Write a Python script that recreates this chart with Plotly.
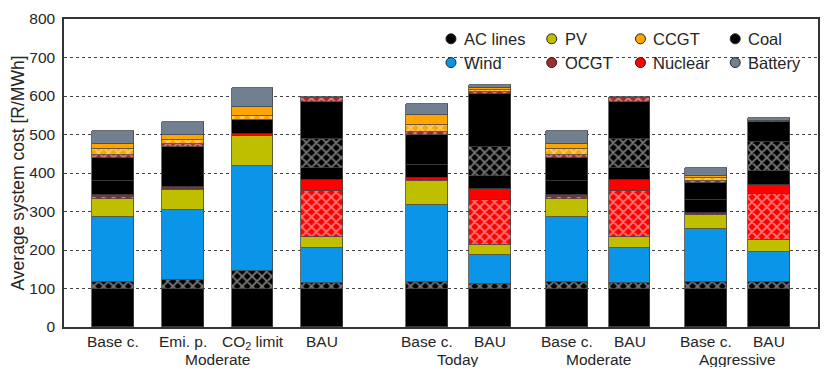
import plotly.graph_objects as go

# ---------------- data ----------------
tick_labels = ["Base c.", "Emi. p.", "CO<sub>2</sub> limit", "BAU",
               "Base c.", "BAU", "Base c.", "BAU", "Base c.", "BAU"]
group_labels = ["Moderate", "Today", "Moderate", "Aggressive"]

ac_lines   = [100, 100, 100, 100, 100, 100, 100, 100, 100, 100]
ac_lines_h = [18, 21, 45, 15, 16.5, 12, 18, 15, 18, 16.5]
wind       = [167.5, 184, 273, 91.5, 201.5, 75.7, 167.5, 91.5, 136, 77.5]
pv         = [48, 51.6, 78, 28.5, 60, 24.9, 48, 28.5, 37, 32]
nuclear_h  = [3, 2, 1, 117, 3, 118.4, 3, 117, 2, 120]
nuclear    = [5.5, 6, 5.5, 28.6, 5, 28, 5.5, 28.6, 3.5, 24]
coal_a     = [36, 0, 0, 33.4, 36, 32, 36, 33.4, 34.5, 34]
coal_h     = [0, 0, 0, 75.5, 0, 77, 0, 75.5, 0, 76]
coal_b     = [60, 103.5, 36, 94.5, 76, 137, 60, 94.5, 43, 53]
ocgt_h     = [8.5, 7, 0, 10, 8.7, 4.6, 8.5, 10, 6.2, 1]
ccgt_h     = [15.5, 10, 9, 1, 17.2, 6.9, 15.5, 1, 6.6, 0.5]
ccgt       = [14.6, 13, 23.7, 0.8, 25.7, 5.5, 14.6, 0.8, 4.4, 0.5]
battery    = [31.8, 34, 48.8, 1, 29.9, 7, 31.8, 1, 23, 8]

legend_names = ["AC lines", "PV", "CCGT", "Coal", "Wind", "OCGT", "Nuclear", "Battery"]

# ---------------- layout helpers ----------------
x_pos = [0, 1, 2, 3, 4.5, 5.4, 6.5, 7.4, 8.5, 9.4]
group_pos = [1.5, 4.95, 6.95, 8.95]

colors = {
    "AC lines": "#000000", "Wind": "#0a95e8", "PV": "#bfbf00",
    "OCGT": "#a52a2a", "CCGT": "#ffa500", "Nuclear": "#ff0000",
    "Coal": "#000000", "Battery": "#708090",
}

layers = [
    ("AC lines", ac_lines, False), ("AC lines", ac_lines_h, True),
    ("Wind", wind, False), ("PV", pv, False),
    ("Nuclear", nuclear_h, True), ("Nuclear", nuclear, False),
    ("Coal", coal_a, False), ("Coal", coal_h, True), ("Coal", coal_b, False),
    ("OCGT", ocgt_h, True), ("CCGT", ccgt_h, True), ("CCGT", ccgt, False),
    ("Battery", battery, False),
]

FONT = "Liberation Sans, Arial, sans-serif"
TXT = "#262626"
fig = go.Figure()

for name, vals, hatched in layers:
    c = colors[name]
    marker = dict(color=c, line=dict(color="#454545", width=0.8))
    if hatched:
        marker["pattern"] = dict(shape="x", fgcolor="#f4f4f4", bgcolor=c,
                                 size=7, solidity=0.45, fillmode="overlay")
    fig.add_trace(go.Bar(x=x_pos, y=vals, width=0.6, marker=marker,
                         name=name, showlegend=False, hoverinfo="y+name"))

# x labels (scenario + group) as annotations
for lab, xp in zip(tick_labels, x_pos):
    fig.add_annotation(x=xp, y=0, xref="x", yref="paper", text=lab,
                       showarrow=False, yanchor="top", yshift=-4,
                       font=dict(family=FONT, size=15.5, color=TXT))
for g, gx in zip(group_labels, group_pos):
    fig.add_annotation(x=gx, y=0, xref="x", yref="paper", text=g,
                       showarrow=False, yanchor="top", yshift=-22,
                       font=dict(family=FONT, size=15.5, color=TXT))

# manual legend (4 columns x 2 rows), positions in paper coordinates
col_x = [(452 - 64) / 756, (553 - 64) / 756, (642 - 64) / 756, (737 - 64) / 756]
row_y = [(327 - 36) / 311, (327 - 60) / 311]
for i, name in enumerate(legend_names):
    cx = col_x[i % 4]
    cy = row_y[i // 4]
    fig.add_shape(type="circle", xref="paper", yref="paper",
                  xsizemode="pixel", ysizemode="pixel", xanchor=cx, yanchor=cy,
                  x0=-5, x1=5, y0=-5, y1=5,
                  fillcolor=colors[name], line=dict(color="#222", width=1))
    fig.add_annotation(x=cx, y=cy, xref="paper", yref="paper", text=name,
                       showarrow=False, xanchor="left", yanchor="middle",
                       xshift=11, font=dict(family=FONT, size=16.5, color=TXT))

# page body has an 8px default margin: figure is sized/margined to compensate
fig.update_layout(
    width=814, height=359,
    margin=dict(l=56, r=2, t=8, b=40),
    barmode="stack", bargap=0, showlegend=False,
    plot_bgcolor="white", paper_bgcolor="white",
    font=dict(family=FONT, size=14, color=TXT),
    xaxis=dict(range=[-0.7, 10.1], showticklabels=False,
               showgrid=False, zeroline=False, showline=True, mirror=True,
               linecolor="#333", linewidth=1.5, ticks=""),
    yaxis=dict(range=[0, 800], dtick=100, showgrid=True, gridcolor="#444",
               griddash="dot", gridwidth=1, zeroline=False, showline=True,
               mirror=True, linecolor="#333", linewidth=1.5,
               ticks="outside", ticklen=4, tickcolor="rgba(0,0,0,0)",
               ticklabeloverflow="allow",
               title=dict(text="Average system cost [R/MWh]", standoff=6,
                          font=dict(family=FONT, size=17.5, color=TXT)),
               tickfont=dict(family=FONT, size=15.5, color=TXT)),
)

fig.write_html("out.html")
